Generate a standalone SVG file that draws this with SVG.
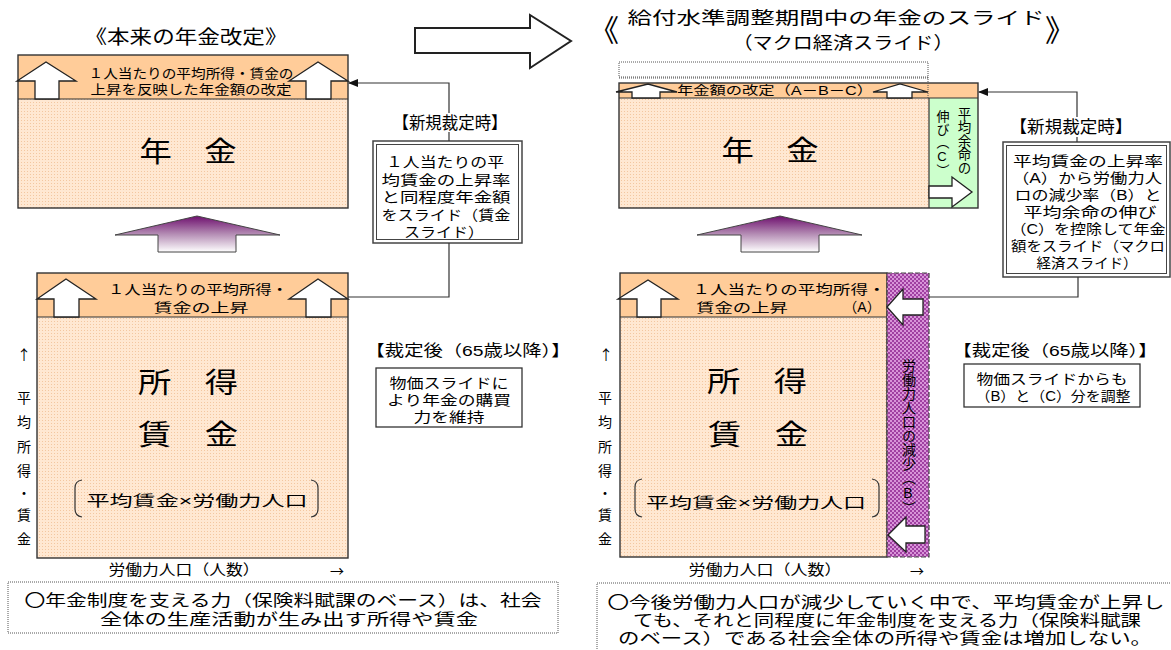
<svg xmlns="http://www.w3.org/2000/svg" width="1171" height="650" viewBox="0 0 1171 650">
<style>
.t{font-family:'Liberation Sans','Noto Sans CJK JP',sans-serif;fill:#000}
.j{font-family:'Noto Sans CJK JP',sans-serif;fill:#000}
.c{text-anchor:middle;dominant-baseline:central}
.bx{fill:none;stroke:#333;stroke-width:1.4}
.ln{fill:none;stroke:#333;stroke-width:1.2}
.wa{fill:#fff;stroke:#222;stroke-width:1.3;stroke-linejoin:miter}
.band{fill:#FFCC99}
.v{writing-mode:vertical-rl;text-orientation:upright}
.dot{fill:none;stroke:#555;stroke-width:1;stroke-dasharray:1 1}
</style>
<defs>
<pattern id="pale" width="3" height="3" patternUnits="userSpaceOnUse"><rect width="3" height="3" fill="#FFE8D2"/><rect width="1" height="1" fill="#F3C7A0"/></pattern>
<pattern id="purp" width="4" height="4" patternUnits="userSpaceOnUse"><rect width="4" height="4" fill="#D894D8"/><rect width="2" height="2" fill="#A040A2"/><rect x="2" y="2" width="2" height="2" fill="#A040A2"/></pattern>
<linearGradient id="pg" x1="0" y1="0" x2="0" y2="1"><stop offset="0" stop-color="#6E0F6E"/><stop offset="0.5" stop-color="#B48CB4"/><stop offset="1" stop-color="#FFFFFF"/></linearGradient>
<marker id="ah" markerWidth="10" markerHeight="8" refX="9" refY="4" orient="auto" markerUnits="userSpaceOnUse"><path d="M0,0 L10,4 L0,8 z" fill="#111"/></marker>
</defs>
<rect width="1171" height="650" fill="#fff"/>

<g id="title-left">
<text class="t c" x="186" y="37" font-size="19" textLength="203" lengthAdjust="spacingAndGlyphs">《本来の年金改定》</text>
</g>

<g id="big-arrow">
<polygon points="415,28 530,28 530,15 571,41 530,68 530,53 415,53" fill="#fff" stroke="#222" stroke-width="2"/>
</g>

<g id="title-right">
<text class="t c" x="604" y="30" font-size="30">《</text>
<text class="t c" x="1060" y="30" font-size="30">》</text>
<text class="t c" font-size="17.5" lengthAdjust="spacingAndGlyphs"><tspan x="836" y="18" textLength="417" lengthAdjust="spacingAndGlyphs">給付水準調整期間中の年金のスライド</tspan><tspan x="843" y="43" textLength="221" lengthAdjust="spacingAndGlyphs">（マクロ経済スライド）</tspan></text>
</g>

<g id="pension-left">
<rect x="18" y="55" width="330" height="153" fill="url(#pale)"/>
<rect x="18" y="55" width="330" height="44" class="band"/>
<line x1="18" y1="99" x2="348" y2="99" class="ln"/>
<rect x="18" y="55" width="330" height="153" class="bx"/>
<polygon class="wa" points="35,99 35,81 17,81 46,62 76,81 59,81 59,99"/>
<polygon class="wa" points="306,99 306,81 289,81 318,62 348,81 331,81 331,99"/>
<text class="t c" font-size="13" lengthAdjust="spacingAndGlyphs"><tspan x="191" y="73" textLength="205" lengthAdjust="spacingAndGlyphs">１人当たりの平均所得・賃金の</tspan><tspan x="191" y="89" textLength="201" lengthAdjust="spacingAndGlyphs">上昇を反映した年金額の改定</tspan></text>
<text class="t c" x="188" y="152" font-size="28.5" textLength="97" lengthAdjust="spacingAndGlyphs">年　金</text>
</g>

<g id="new-left">
<text class="t c" x="450" y="123" font-size="17" textLength="115" lengthAdjust="spacingAndGlyphs">【新規裁定時】</text>
<rect x="373" y="141" width="149" height="102" fill="#fff" stroke="#444" stroke-width="1.5"/>
<rect x="376.5" y="144.5" width="142" height="95" fill="none" stroke="#444" stroke-width="1"/>
<text class="t c" font-size="14" lengthAdjust="spacingAndGlyphs"><tspan x="445" y="162" textLength="118" lengthAdjust="spacingAndGlyphs">１人当たりの平</tspan><tspan x="446" y="179.5" textLength="129" lengthAdjust="spacingAndGlyphs">均賃金の上昇率</tspan><tspan x="446" y="197" textLength="129" lengthAdjust="spacingAndGlyphs">と同程度年金額</tspan><tspan x="446" y="214.5" textLength="129" lengthAdjust="spacingAndGlyphs">をスライド（賃金</tspan><tspan x="444" y="232" textLength="80" lengthAdjust="spacingAndGlyphs">スライド）</tspan></text>
</g>

<g id="up-arrow-left">
<polygon points="158,252 158,235 115,235 197,216 280,235 236,235 236,252" fill="url(#pg)" stroke="#444" stroke-width="1"/>
</g>

<g id="income-left">
<rect x="37" y="273" width="311" height="285" fill="url(#pale)"/>
<rect x="37" y="273" width="311" height="44" class="band"/>
<line x1="37" y1="317" x2="348" y2="317" class="ln"/>
<rect x="37" y="273" width="311" height="285" class="bx"/>
<polygon class="wa" points="54,317 54,299 37,299 66,279 96,299 79,299 79,317"/>
<polygon class="wa" points="306,317 306,299 289,299 318,279 348,299 331,299 331,317"/>
<text class="t c" font-size="13" lengthAdjust="spacingAndGlyphs"><tspan x="198" y="289" textLength="180" lengthAdjust="spacingAndGlyphs">１人当たりの平均所得・</tspan><tspan x="201" y="307" textLength="95" lengthAdjust="spacingAndGlyphs">賃金の上昇</tspan></text>
<text class="t c" font-size="28.5" lengthAdjust="spacingAndGlyphs"><tspan x="188" y="383" textLength="100" lengthAdjust="spacingAndGlyphs">所　得</tspan><tspan x="188" y="435" textLength="100" lengthAdjust="spacingAndGlyphs">賃　金</tspan></text>
<path class="ln" d="M82,480 Q75,481 75,488 V509 Q75,516 82,517"/>
<path class="ln" d="M311,480 Q318,481 318,488 V509 Q318,516 311,517"/>
<text class="t c" x="197" y="500" font-size="15" textLength="221" lengthAdjust="spacingAndGlyphs">平均賃金×労働力人口</text>
</g>

<g id="axis-left">
<text class="j c" x="24" y="354" font-size="14">↑</text>
<text class="t c" x="24" y="398" font-size="14">平</text>
<text class="t c" x="24" y="422" font-size="14">均</text>
<text class="t c" x="24" y="447" font-size="14">所</text>
<text class="t c" x="24" y="471" font-size="14">得</text>
<text class="t c" x="24" y="493" font-size="14">・</text>
<text class="t c" x="24" y="515" font-size="14">賃</text>
<text class="t c" x="24" y="539" font-size="14">金</text>
<text class="t c" x="184" y="570" font-size="14.5" textLength="151" lengthAdjust="spacingAndGlyphs">労働力人口（人数）</text>
<text class="j c" x="337" y="570" font-size="14">→</text>
</g>

<g id="after-left">
<text class="t c" x="468" y="350" font-size="15.5" textLength="205" lengthAdjust="spacingAndGlyphs">【裁定後（65歳以降）】</text>
<rect x="376" y="368" width="146" height="59" fill="#fff" stroke="#333" stroke-width="1.3"/>
<text class="t c" font-size="14" lengthAdjust="spacingAndGlyphs"><tspan x="449" y="383" textLength="119" lengthAdjust="spacingAndGlyphs">物価スライドに</tspan><tspan x="449" y="400" textLength="124" lengthAdjust="spacingAndGlyphs">より年金の購買</tspan><tspan x="449" y="417" textLength="71" lengthAdjust="spacingAndGlyphs">力を維持</tspan></text>
</g>

<g id="note-left">
<rect x="8" y="582" width="550" height="51" class="dot"/>
<text class="t c" font-size="15.5" lengthAdjust="spacingAndGlyphs"><tspan x="283" y="600" textLength="517" lengthAdjust="spacingAndGlyphs">〇年金制度を支える力（保険料賦課のベース）は、社会</tspan><tspan x="289" y="619" textLength="378" lengthAdjust="spacingAndGlyphs">全体の生産活動が生み出す所得や賃金</tspan></text>
</g>

<g id="pension-right">
<rect x="619" y="62" width="309" height="15" class="dot"/>
<line x1="619" y1="78" x2="928" y2="78" class="dot"/>
<rect x="619" y="83" width="359" height="15" class="band"/>
<rect x="619" y="98" width="310" height="110" fill="url(#pale)"/>
<rect x="929" y="98" width="49" height="110" fill="#CCFFCC"/>
<line x1="619" y1="98" x2="978" y2="98" class="ln"/>
<line x1="929" y1="98" x2="929" y2="208" class="ln"/>
<rect x="619" y="83" width="359" height="125" class="bx"/>
<line x1="928" y1="77" x2="928" y2="98" class="dot"/>
<polygon class="wa" points="632,98 632,92 616,92 648,84 677,92 660,92 660,98"/>
<polygon class="wa" points="887,98 887,92 873,92 900,84 928,92 912,92 912,98"/>
<text class="t c" x="775" y="91" font-size="12.5" textLength="196" lengthAdjust="spacingAndGlyphs">年金額の改定（A－B－C）</text>
<text class="t c" x="770" y="151" font-size="28.5" textLength="97" lengthAdjust="spacingAndGlyphs">年　金</text>
<text class="t v" x="963" y="107" font-size="13.5">平均余命の</text>
<text class="t v" x="942" y="110" font-size="13">伸び（C）</text>
<polygon class="wa" points="929,186 952,186 952,177 972,192 952,207 952,198 929,198"/>
</g>

<g id="new-right">
<text class="t c" x="1071" y="127" font-size="17" textLength="123" lengthAdjust="spacingAndGlyphs">【新規裁定時】</text>
<rect x="1003" y="142" width="167" height="135" fill="#fff" stroke="#444" stroke-width="1.5"/>
<rect x="1006.5" y="145.5" width="160" height="128" fill="none" stroke="#444" stroke-width="1"/>
<text class="t c" font-size="14" lengthAdjust="spacingAndGlyphs"><tspan x="1088" y="161" textLength="150" lengthAdjust="spacingAndGlyphs">平均賃金の上昇率</tspan><tspan x="1087" y="178" textLength="150" lengthAdjust="spacingAndGlyphs">（A）から労働力人</tspan><tspan x="1088" y="195" textLength="147" lengthAdjust="spacingAndGlyphs">ロの減少率（B）と</tspan><tspan x="1090" y="212" textLength="133" lengthAdjust="spacingAndGlyphs">平均余命の伸び</tspan><tspan x="1088" y="229" textLength="155" lengthAdjust="spacingAndGlyphs">（C）を控除して年金</tspan><tspan x="1088" y="246" textLength="154" lengthAdjust="spacingAndGlyphs">額をスライド（マクロ</tspan><tspan x="1087" y="263" textLength="101" lengthAdjust="spacingAndGlyphs">経済スライド）</tspan></text>
</g>

<g id="up-arrow-right">
<polygon points="741,252 741,235 697,235 780,216 862,235 819,235 819,252" fill="url(#pg)" stroke="#444" stroke-width="1"/>
</g>

<g id="income-right">
<rect x="620" y="273" width="267" height="284" fill="url(#pale)"/>
<rect x="620" y="273" width="267" height="44" class="band"/>
<line x1="620" y1="317" x2="887" y2="317" class="ln"/>
<rect x="620" y="273" width="267" height="284" class="bx"/>
<polygon class="wa" points="637,317 637,299 618,299 648,280 678,299 661,299 661,317"/>
<text class="t c" font-size="13" lengthAdjust="spacingAndGlyphs"><tspan x="789" y="289" textLength="193" lengthAdjust="spacingAndGlyphs">１人当たりの平均所得・</tspan><tspan x="742" y="307" textLength="92" lengthAdjust="spacingAndGlyphs">賃金の上昇</tspan><tspan x="862" y="307" font-size="14">（A）</tspan></text>
<text class="t c" font-size="28.5" lengthAdjust="spacingAndGlyphs"><tspan x="757" y="382" textLength="100" lengthAdjust="spacingAndGlyphs">所　得</tspan><tspan x="758" y="435" textLength="100" lengthAdjust="spacingAndGlyphs">賃　金</tspan></text>
<path class="ln" d="M642,479 Q635,480 635,487 V509 Q635,516 642,517"/>
<path class="ln" d="M872,479 Q879,480 879,487 V509 Q879,516 872,517"/>
<text class="t c" x="756" y="502" font-size="15" textLength="220" lengthAdjust="spacingAndGlyphs">平均賃金×労働力人口</text>
</g>

<g id="labour-decrease">
<rect x="887" y="273" width="42" height="284" fill="url(#purp)" stroke="#444" stroke-width="1.2" stroke-dasharray="5 2"/>
<polygon class="wa" points="923,299 903,299 903,289 887,307 903,325 903,315 923,315"/>
<polygon class="wa" points="925,526 906,526 906,517 888,535 906,552 906,543 925,543"/>
<text class="t v" x="908" y="359" font-size="14">労働力人口の減少（B）</text>
</g>

<g id="axis-right">
<text class="j c" x="606" y="354" font-size="14">↑</text>
<text class="t c" x="605" y="398" font-size="14">平</text>
<text class="t c" x="605" y="422" font-size="14">均</text>
<text class="t c" x="605" y="447" font-size="14">所</text>
<text class="t c" x="605" y="471" font-size="14">得</text>
<text class="t c" x="605" y="493" font-size="14">・</text>
<text class="t c" x="605" y="515" font-size="14">賃</text>
<text class="t c" x="605" y="539" font-size="14">金</text>
<text class="t c" x="765" y="570" font-size="14.5" textLength="153" lengthAdjust="spacingAndGlyphs">労働力人口（人数）</text>
<text class="j c" x="917" y="570" font-size="14">→</text>
</g>

<g id="after-right">
<text class="t c" x="1055" y="350" font-size="15.5" textLength="205" lengthAdjust="spacingAndGlyphs">【裁定後（65歳以降）】</text>
<rect x="964" y="364" width="176" height="43" fill="#fff" stroke="#333" stroke-width="1.3"/>
<text class="t c" font-size="14" lengthAdjust="spacingAndGlyphs"><tspan x="1052" y="379" textLength="151" lengthAdjust="spacingAndGlyphs">物価スライドからも</tspan><tspan x="1053" y="396" textLength="155" lengthAdjust="spacingAndGlyphs">（B）と（C）分を調整</tspan></text>
</g>

<g id="note-right">
<rect x="597" y="583" width="580" height="75" class="dot"/>
<text class="t c" font-size="15.5" lengthAdjust="spacingAndGlyphs"><tspan x="886" y="602" textLength="557" lengthAdjust="spacingAndGlyphs">〇今後労働力人口が減少していく中で、平均賃金が上昇し</tspan><tspan x="887" y="620" textLength="508" lengthAdjust="spacingAndGlyphs">ても、それと同程度に年金制度を支える力（保険料賦課</tspan><tspan x="885" y="638" textLength="534" lengthAdjust="spacingAndGlyphs">のベース）である社会全体の所得や賃金は増加しない。</tspan></text>
</g>

<g id="connectors">
<path class="ln" d="M449,113 V83 H349" marker-end="url(#ah)"/>
<path class="ln" d="M449,132 V141"/>
<path class="ln" d="M449,243 V297 H348"/>
<path class="ln" d="M1077,117 V92 H979" marker-end="url(#ah)"/>
<path class="ln" d="M1077,137 V142"/>
<path class="ln" d="M1078,277 V297 H929"/>
</g>
</svg>
